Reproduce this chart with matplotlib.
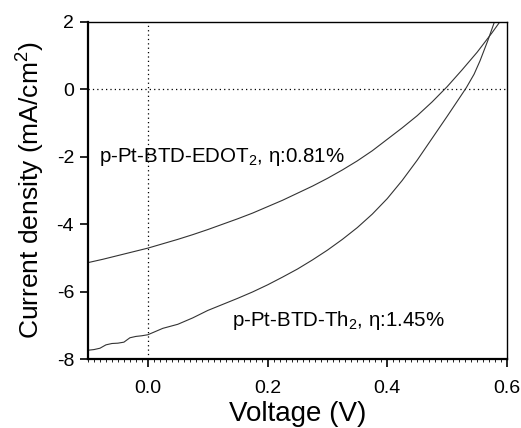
import matplotlib
matplotlib.use("Agg")
import matplotlib.pyplot as plt
from matplotlib.ticker import FuncFormatter, MultipleLocator

plt.rcParams['font.family'] = ['Liberation Sans', 'DejaVu Sans']
plt.rcParams['mathtext.fontset'] = 'custom'
plt.rcParams['mathtext.rm'] = 'Liberation Sans'
plt.rcParams['mathtext.it'] = 'Liberation Sans:italic'

# EDOT2 series
v_edot = [-0.1, -0.075, -0.05, -0.025, 0.0, 0.025, 0.05, 0.075, 0.1, 0.125, 0.15,
          0.175, 0.2, 0.225, 0.25, 0.275, 0.3, 0.325, 0.35, 0.375, 0.4, 0.425,
          0.45, 0.475, 0.5, 0.525, 0.55, 0.575, 0.6]
j_edot = [-5.14, -5.04, -4.93, -4.82, -4.71, -4.58, -4.45, -4.31, -4.16, -4.00, -3.84,
          -3.67, -3.48, -3.29, -3.08, -2.87, -2.64, -2.39, -2.12, -1.82, -1.48, -1.14,
          -0.78, -0.37, 0.08, 0.58, 1.10, 1.68, 2.30]

# Th2 series
v_th = [-0.1, -0.09, -0.08, -0.07, -0.06, -0.05, -0.04, -0.03, -0.02, -0.01, 0.0,
        0.025, 0.05, 0.075, 0.1, 0.125, 0.15, 0.175, 0.2, 0.225, 0.25, 0.275, 0.3,
        0.325, 0.35, 0.375, 0.4, 0.425, 0.45, 0.475, 0.5, 0.52, 0.532, 0.545, 0.555,
        0.568, 0.58, 0.59]
j_th = [-7.74, -7.72, -7.68, -7.58, -7.54, -7.53, -7.50, -7.37, -7.33, -7.31, -7.28,
        -7.09, -6.97, -6.78, -6.56, -6.38, -6.20, -6.01, -5.80, -5.57, -5.33, -5.06, -4.77,
        -4.45, -4.10, -3.70, -3.24, -2.70, -2.10, -1.45, -0.80, -0.27, 0.05, 0.45, 0.85,
        1.45, 2.05, 2.60]

x_ticks = [0.0, 0.2, 0.4, 0.6]
y_ticks = [-8, -6, -4, -2, 0, 2]
label_edot = 'p-Pt-BTD-EDOT$_{2}$, η:0.81%'
label_th = 'p-Pt-BTD-Th$_{2}$, η:1.45%'

fig = plt.figure(figsize=(5.21, 4.28), dpi=100)
ax = fig.add_axes([0.1689, 0.1612, 0.8042, 0.7874])

ax.axhline(0, color='black', linestyle=(0, (1, 2.5)), linewidth=0.9)
ax.axvline(0, color='black', linestyle=(0, (1, 2.5)), linewidth=0.9)

ax.plot(v_edot, j_edot, color='#333333', linewidth=0.8)
ax.plot(v_th, j_th, color='#333333', linewidth=0.8)

ax.set_xlim(-0.1, 0.6)
ax.set_ylim(-8, 2)
ax.set_xticks(x_ticks)
ax.set_yticks(y_ticks)
ax.xaxis.set_minor_locator(MultipleLocator(0.01))
ax.xaxis.set_major_formatter(FuncFormatter(lambda v, p: f'{v:.1f}'))
ax.yaxis.set_major_formatter(FuncFormatter(lambda v, p: f'{int(round(v))}'))

ax.tick_params(axis='both', which='major', direction='out', length=6, width=1.2,
               labelsize=14, pad=5)
ax.tick_params(axis='x', which='minor', direction='out', length=2, width=0.6)
ax.tick_params(axis='x', which='major', pad=9)
ax.tick_params(axis='y', which='major', pad=4)

for s in ['left', 'bottom']:
    ax.spines[s].set_linewidth(1.6)
for s in ['top', 'right']:
    ax.spines[s].set_linewidth(1.0)

ax.set_xlabel('Voltage (V)', fontsize=20, labelpad=3)
ax.set_ylabel('Current density (mA/cm$^{2}$)', fontsize=19, labelpad=7)

ax.text(-0.082, -2.0, label_edot, fontsize=14.8, va='center', ha='left')
ax.text(0.14, -6.85, label_th, fontsize=14.8, va='center', ha='left')

fig.savefig('out.png', dpi=100)
